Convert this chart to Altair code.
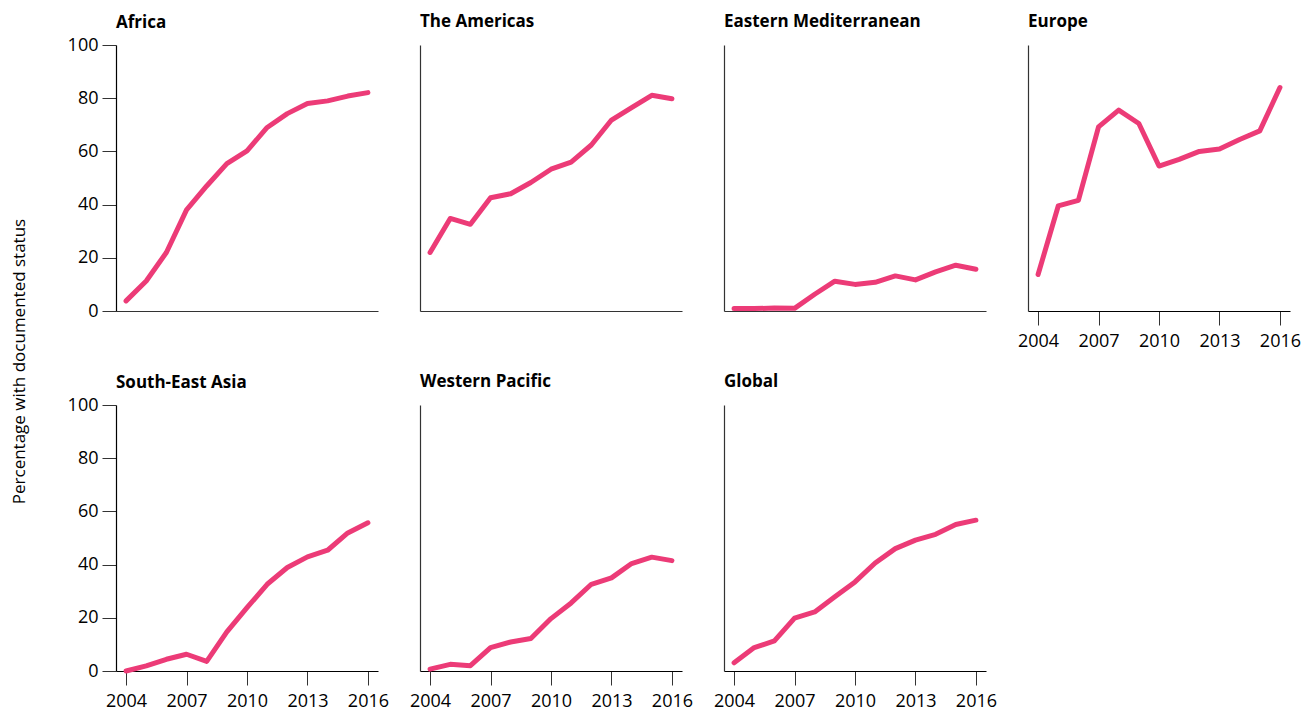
import altair as alt
import pandas as pd

years = list(range(2004, 2017))

africa = [3.8, 11.3, 22.0, 38.0, 47.0, 55.4, 60.2, 69.0, 74.2, 78.0, 79.0, 80.8, 82.1]
americas = [22.0, 34.8, 32.6, 42.6, 44.1, 48.3, 53.3, 56.0, 62.4, 71.8, 76.5, 81.1, 79.8]
east_med = [0.9, 0.9, 1.1, 1.0, 6.3, 11.2, 10.0, 10.8, 13.2, 11.7, 14.7, 17.2, 15.7]
europe = [13.7, 39.5, 41.6, 69.2, 75.5, 70.5, 54.5, 57.0, 60.0, 60.9, 64.5, 67.7, 84.0]
se_asia = [0.0, 1.9, 4.4, 6.3, 3.6, 14.7, 23.8, 32.6, 38.9, 42.9, 45.4, 51.9, 55.7]
w_pacific = [0.7, 2.5, 2.0, 8.8, 10.9, 12.2, 19.7, 25.6, 32.6, 35.0, 40.4, 42.8, 41.5]
global_ = [3.1, 8.8, 11.3, 19.9, 22.2, 27.9, 33.5, 40.6, 46.0, 49.2, 51.4, 55.1, 56.7]

regions = ["Africa", "The Americas", "Eastern Mediterranean", "Europe",
           "South-East Asia", "Western Pacific", "Global"]
series = [africa, americas, east_med, europe, se_asia, w_pacific, global_]

x_ticks = [2004, 2007, 2010, 2013, 2016]
y_ticks = [0, 20, 40, 60, 80, 100]

rows = []
for r, vals in zip(regions, series):
    for yr, v in zip(years, vals):
        rows.append({"region": r, "year": yr, "pct": v})
df = pd.DataFrame(rows)

PINK = "#EC3B77"
FONT = "Open Sans"
W, H = 262, 266


def panel(name, show_x, show_y):
    if show_x:
        xaxis = alt.Axis(values=x_ticks, format="d", title=None, tickSize=14,
                         labelPadding=7, labelFontSize=18, domainColor="black",
                         tickColor="#333333")
    else:
        xaxis = alt.Axis(labels=False, ticks=False, title=None, domainColor="#333333")
    if show_y:
        yaxis = alt.Axis(values=y_ticks, title=None, tickSize=14, labelPadding=4,
                         labelFontSize=18, domainColor="black", tickColor="#333333")
    else:
        yaxis = alt.Axis(labels=False, ticks=False, title=None, domainColor="#333333")
    return (
        alt.Chart(df)
        .transform_filter(alt.datum.region == name)
        .mark_line(color=PINK, strokeWidth=5, strokeCap="round", strokeJoin="round")
        .encode(
            x=alt.X("year:Q", scale=alt.Scale(domain=[2003.5, 2016.5], nice=False, zero=False), axis=xaxis),
            y=alt.Y("pct:Q", scale=alt.Scale(domain=[0, 100], nice=False), axis=yaxis),
        )
        .properties(
            width=W, height=H,
            title=alt.TitleParams(name, anchor="start", font=FONT, fontSize=17,
                                  fontWeight="bold", color="black",
                                  offset=(4 if show_y else 14), frame="group"),
        )
    )


row1 = alt.hconcat(
    panel("Africa", False, True),
    panel("The Americas", False, False),
    panel("Eastern Mediterranean", False, False),
    panel("Europe", True, False),
    spacing=42, bounds="flush",
)
row2 = alt.hconcat(
    panel("South-East Asia", True, True),
    panel("Western Pacific", True, False),
    panel("Global", True, False),
    spacing=42, bounds="flush",
)

chart = (
    alt.vconcat(row1, row2, spacing=23)
    .properties(
        title=alt.TitleParams("Percentage with documented status", orient="left",
                              anchor="middle", font=FONT, fontSize=17,
                              fontWeight="normal", color="black", offset=38),
        padding={"left": 3, "top": 5, "right": 5, "bottom": 5},
    )
    .configure_axis(labelFont=FONT, labelColor="black", grid=False, domainWidth=1.2)
    .configure_view(stroke=None)
)

chart.save("out.html", embed_options={"renderer": "svg", "actions": False})
